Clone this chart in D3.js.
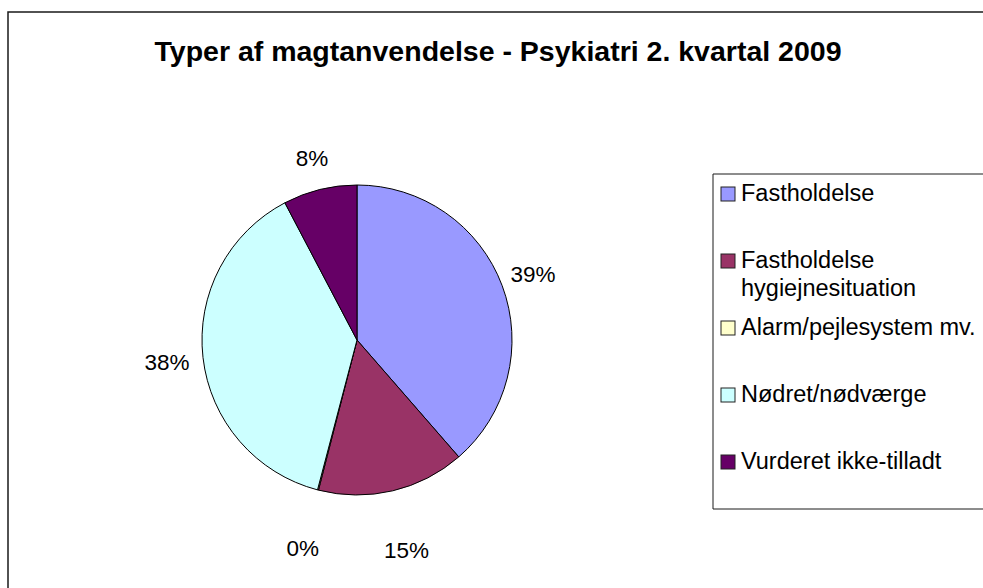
<!DOCTYPE html>
<html>
<head>
  <meta charset="utf-8">
  <title>Typer af magtanvendelse</title>
  <script src="https://d3js.org/d3.v7.min.js"></script>
  <style>
    html, body { margin: 0; padding: 0; background: #fff; overflow: hidden; }
    svg { display: block; font-family: "Liberation Sans", Arial, sans-serif; }
  </style>
</head>
<body>
  <svg id="chart" width="1100" height="588"></svg>

  <script>
    // data
    const categories = ["Fastholdelse", "Fastholdelse hygiejnesituation", "Alarm/pejlesystem mv.", "Nødret/nødværge", "Vurderet ikke-tilladt"];
    const values = [38.6, 15.4, 0.1, 38.2, 7.7];
    const colors = ["#9999FF", "#993366", "#FFFFCC", "#CCFFFF", "#660066"];
    const title = "Typer af magtanvendelse - Psykiatri 2. kvartal 2009";

    const W = 1100, H = 588;
    const svg = d3.select("#chart");
    const cx = 357, cy = 340, r = 155;

    // outer chart frame: only left and top edges are in view
    svg.append("path")
      .attr("d", `M8,${H + 5}V12H${W + 5}`)
      .attr("fill", "none")
      .attr("stroke", "#1a1a1a")
      .attr("stroke-width", 1.5);

    svg.append("text")
      .attr("x", 498).attr("y", 61)
      .attr("text-anchor", "middle")
      .attr("font-size", 28.5)
      .attr("font-weight", "bold")
      .text(title);

    const data = categories.map((c, i) => ({ name: c, value: values[i], color: colors[i] }));
    const total = d3.sum(values);

    const pie = d3.pie().sort(null).value(d => d.value);
    const arc = d3.arc().innerRadius(0).outerRadius(r);
    const arcs = pie(data);

    const g = svg.append("g").attr("transform", `translate(${cx},${cy})`);

    g.selectAll("path")
      .data(arcs)
      .enter()
      .append("path")
      .attr("d", arc)
      .attr("fill", d => d.data.color)
      .attr("stroke", "#000")
      .attr("stroke-width", 1);

    // percentage labels outside the pie
    const labelPos = d => {
      const a = (d.startAngle + d.endAngle) / 2;
      const dist = 188 + 28 * Math.max(0, -Math.cos(a));
      return [dist * Math.sin(a), -dist * Math.cos(a)];
    };

    g.selectAll("text.pct")
      .data(arcs)
      .enter()
      .append("text")
      .attr("class", "pct")
      .attr("font-size", 22.5)
      .attr("text-anchor", "middle")
      .attr("dy", "0.36em")
      .attr("x", d => labelPos(d)[0])
      .attr("y", d => labelPos(d)[1])
      .text(d => Math.round(d.data.value / total * 100) + "%");

    // legend box, its right side runs off the page
    const lx = 713, ly = 174, lb = 509;
    svg.append("path")
      .attr("d", `M${W + 5},${ly}H${lx}V${lb}H${W + 5}`)
      .attr("fill", "none")
      .attr("stroke", "#1a1a1a")
      .attr("stroke-width", 1);

    const step = 67, lineH = 28, maxW = 250;
    const items = svg.append("g").selectAll("g")
      .data(data)
      .enter()
      .append("g")
      .attr("transform", (d, i) => `translate(${lx + 8},${ly + 20 + i * step})`);

    items.append("rect")
      .attr("x", 0).attr("y", -7)
      .attr("width", 14).attr("height", 14)
      .attr("fill", d => d.color)
      .attr("stroke", "#222")
      .attr("stroke-width", 1);

    items.each(function(d) {
      const t = d3.select(this).append("text")
        .attr("x", 20).attr("y", 7)
        .attr("font-size", 23.5);
      // wrap long names like the legend does
      const words = d.name.split(" ");
      let line = [], tspan = t.append("tspan").attr("x", 20).attr("dy", 0);
      words.forEach(w => {
        line.push(w);
        tspan.text(line.join(" "));
        if (tspan.node().getComputedTextLength() > maxW && line.length > 1) {
          line.pop();
          tspan.text(line.join(" "));
          line = [w];
          tspan = t.append("tspan").attr("x", 20).attr("dy", lineH).text(w);
        }
      });
    });
  </script>
</body>
</html>
